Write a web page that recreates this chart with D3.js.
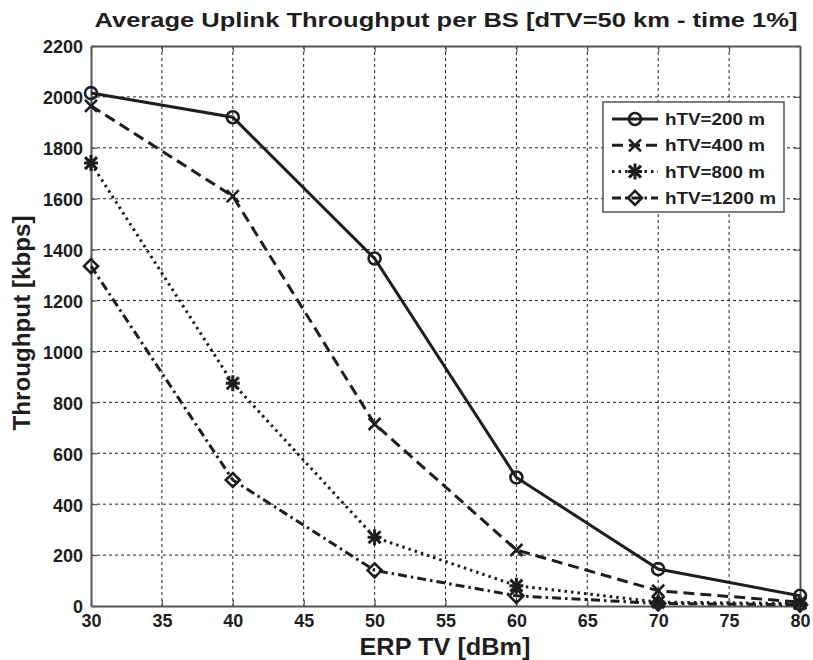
<!DOCTYPE html>
<html>
<head>
<meta charset="utf-8">
<script src="https://cdn.jsdelivr.net/npm/d3@7"></script>
<style>
  html, body { margin: 0; padding: 0; background: #fff; }
  svg { display: block; font-family: "Liberation Sans", Arial, sans-serif; }
</style>
</head>
<body>
<svg id="chart" width="813" height="660"></svg>
<script>
// ERP of the TV transmitter (dBm)
const erp = [30, 40, 50, 60, 70, 80];
// Average uplink throughput per BS (kbps) for each TV antenna height
const tput200  = [2015, 1920, 1365, 505, 145, 40];
const tput400  = [1965, 1610, 715, 220, 60, 15];
const tput800  = [1740, 875, 270, 80, 15, 10];
const tput1200 = [1335, 495, 140, 40, 10, 5];
const seriesNames = ["hTV=200 m", "hTV=400 m", "hTV=800 m", "hTV=1200 m"];
const xTicks = [30, 35, 40, 45, 50, 55, 60, 65, 70, 75, 80];
const yTicks = [0, 200, 400, 600, 800, 1000, 1200, 1400, 1600, 1800, 2000, 2200];

const svg = d3.select("#chart");
const plotL = 91, plotR = 800, plotT = 46, plotB = 606;
const ink = "#1e1e1e";

const x = d3.scaleLinear().domain([30, 80]).range([plotL, plotR]);
const y = d3.scaleLinear().domain([0, 2200]).range([plotB, plotT]);

// narrow-ish bold lettering: fix the drawn width per character
function fitText(sel, perChar) {
  sel.each(function () {
    const t = d3.select(this);
    const n = t.text().length;
    if (n) t.attr("textLength", n * perChar).attr("lengthAdjust", "spacingAndGlyphs");
  });
}

// grid
const grid = svg.append("g").attr("stroke", "#222").attr("stroke-width", 1)
  .attr("stroke-dasharray", "3,3");
xTicks.slice(1, -1).forEach(t => grid.append("line")
  .attr("x1", x(t)).attr("x2", x(t)).attr("y1", plotT).attr("y2", plotB));
yTicks.slice(1, -1).forEach(t => grid.append("line")
  .attr("x1", plotL).attr("x2", plotR).attr("y1", y(t)).attr("y2", y(t)));

// axes (box with ticks on all four sides)
const fmt = d3.format("d");
const xb = svg.append("g").attr("transform", `translate(0,${plotB})`)
  .call(d3.axisBottom(x).tickValues(xTicks).tickFormat(fmt).tickSizeInner(-6).tickSizeOuter(0));
const xt = svg.append("g").attr("transform", `translate(0,${plotT})`)
  .call(d3.axisTop(x).tickValues(xTicks).tickSizeInner(-6).tickSizeOuter(0).tickFormat(""));
const yl = svg.append("g").attr("transform", `translate(${plotL},0)`)
  .call(d3.axisLeft(y).tickValues(yTicks).tickFormat(fmt).tickSizeInner(-6).tickSizeOuter(0).tickPadding(8));
const yr = svg.append("g").attr("transform", `translate(${plotR},0)`)
  .call(d3.axisRight(y).tickValues(yTicks).tickSizeInner(-6).tickSizeOuter(0).tickFormat(""));
[xb, xt, yl, yr].forEach(g => {
  g.selectAll("path").attr("stroke", "#555").attr("stroke-width", 2);
  g.selectAll("line").attr("stroke", "#555").attr("stroke-width", 1.2);
  g.selectAll("text").attr("fill", ink).attr("font-size", 19).attr("font-weight", "bold");
});
xb.selectAll("text").attr("y", 21).attr("dy", null);
yl.selectAll("text").attr("dy", "0.36em");
fitText(xb.selectAll("text"), 10);
fitText(yl.selectAll("text"), 10);

// series
const series = [
  { vals: tput200,  dash: null,          marker: "circle" },
  { vals: tput400,  dash: "11,6",        marker: "x" },
  { vals: tput800,  dash: "2.5,4",       marker: "star" },
  { vals: tput1200, dash: "9,4,2.5,4",   marker: "diamond" }
];

function drawMarker(g, type, cx, cy) {
  const m = g.append("g").attr("transform", `translate(${cx},${cy})`)
    .attr("stroke", ink).attr("fill", "none").attr("stroke-linecap", "butt");
  if (type === "circle") {
    m.append("circle").attr("r", 6).attr("stroke-width", 2.6);
  } else if (type === "x") {
    m.append("path").attr("d", "M-6,-6L6,6M-6,6L6,-6").attr("stroke-width", 2.6);
  } else if (type === "star") {
    m.append("path").attr("d", "M-7,0L7,0M0,-8L0,8M-6,-6L6,6M-6,6L6,-6").attr("stroke-width", 3);
  } else if (type === "diamond") {
    m.append("path").attr("d", "M0,-7L7,0L0,7L-7,0Z").attr("stroke-width", 2.6);
  }
}

const line = d3.line().x((d, i) => x(erp[i])).y(d => y(d));
series.forEach(s => {
  svg.append("path").datum(s.vals).attr("d", line)
    .attr("fill", "none").attr("stroke", ink).attr("stroke-width", 3)
    .attr("stroke-dasharray", s.dash);
  const mg = svg.append("g");
  s.vals.forEach((v, i) => drawMarker(mg, s.marker, x(erp[i]), y(v)));
});

// legend
const lg = svg.append("g");
lg.append("rect").attr("x", 603).attr("y", 102).attr("width", 181).attr("height", 110)
  .attr("fill", "#fff").attr("stroke", "#555").attr("stroke-width", 1.5);
seriesNames.forEach((name, i) => {
  const ly = 119 + i * 26.3;
  lg.append("line").attr("x1", 612).attr("x2", 658).attr("y1", ly).attr("y2", ly)
    .attr("stroke", ink).attr("stroke-width", 3).attr("stroke-dasharray", series[i].dash);
  drawMarker(lg, series[i].marker, 635, ly);
  lg.append("text").attr("x", 665).attr("y", ly).attr("dy", "0.36em")
    .attr("font-size", 17).attr("font-weight", "bold").attr("fill", ink).text(name)
    .call(fitText, 11.1);
});

// titles
svg.append("text").attr("x", 446).attr("y", 27).attr("text-anchor", "middle")
  .attr("font-size", 21).attr("font-weight", "bold").attr("fill", ink)
  .attr("textLength", 703).attr("lengthAdjust", "spacingAndGlyphs")
  .text("Average Uplink Throughput per BS [dTV=50 km - time 1%]");
svg.append("text").attr("x", 445).attr("y", 655).attr("text-anchor", "middle")
  .attr("font-size", 24).attr("font-weight", "bold").attr("fill", ink)
  .attr("textLength", 171).attr("lengthAdjust", "spacingAndGlyphs")
  .text("ERP TV [dBm]");
svg.append("text").attr("transform", "translate(30,323) rotate(-90)").attr("text-anchor", "middle")
  .attr("font-size", 24).attr("font-weight", "bold").attr("fill", ink)
  .attr("textLength", 215).attr("lengthAdjust", "spacingAndGlyphs")
  .text("Throughput [kbps]");
</script>
</body>
</html>
